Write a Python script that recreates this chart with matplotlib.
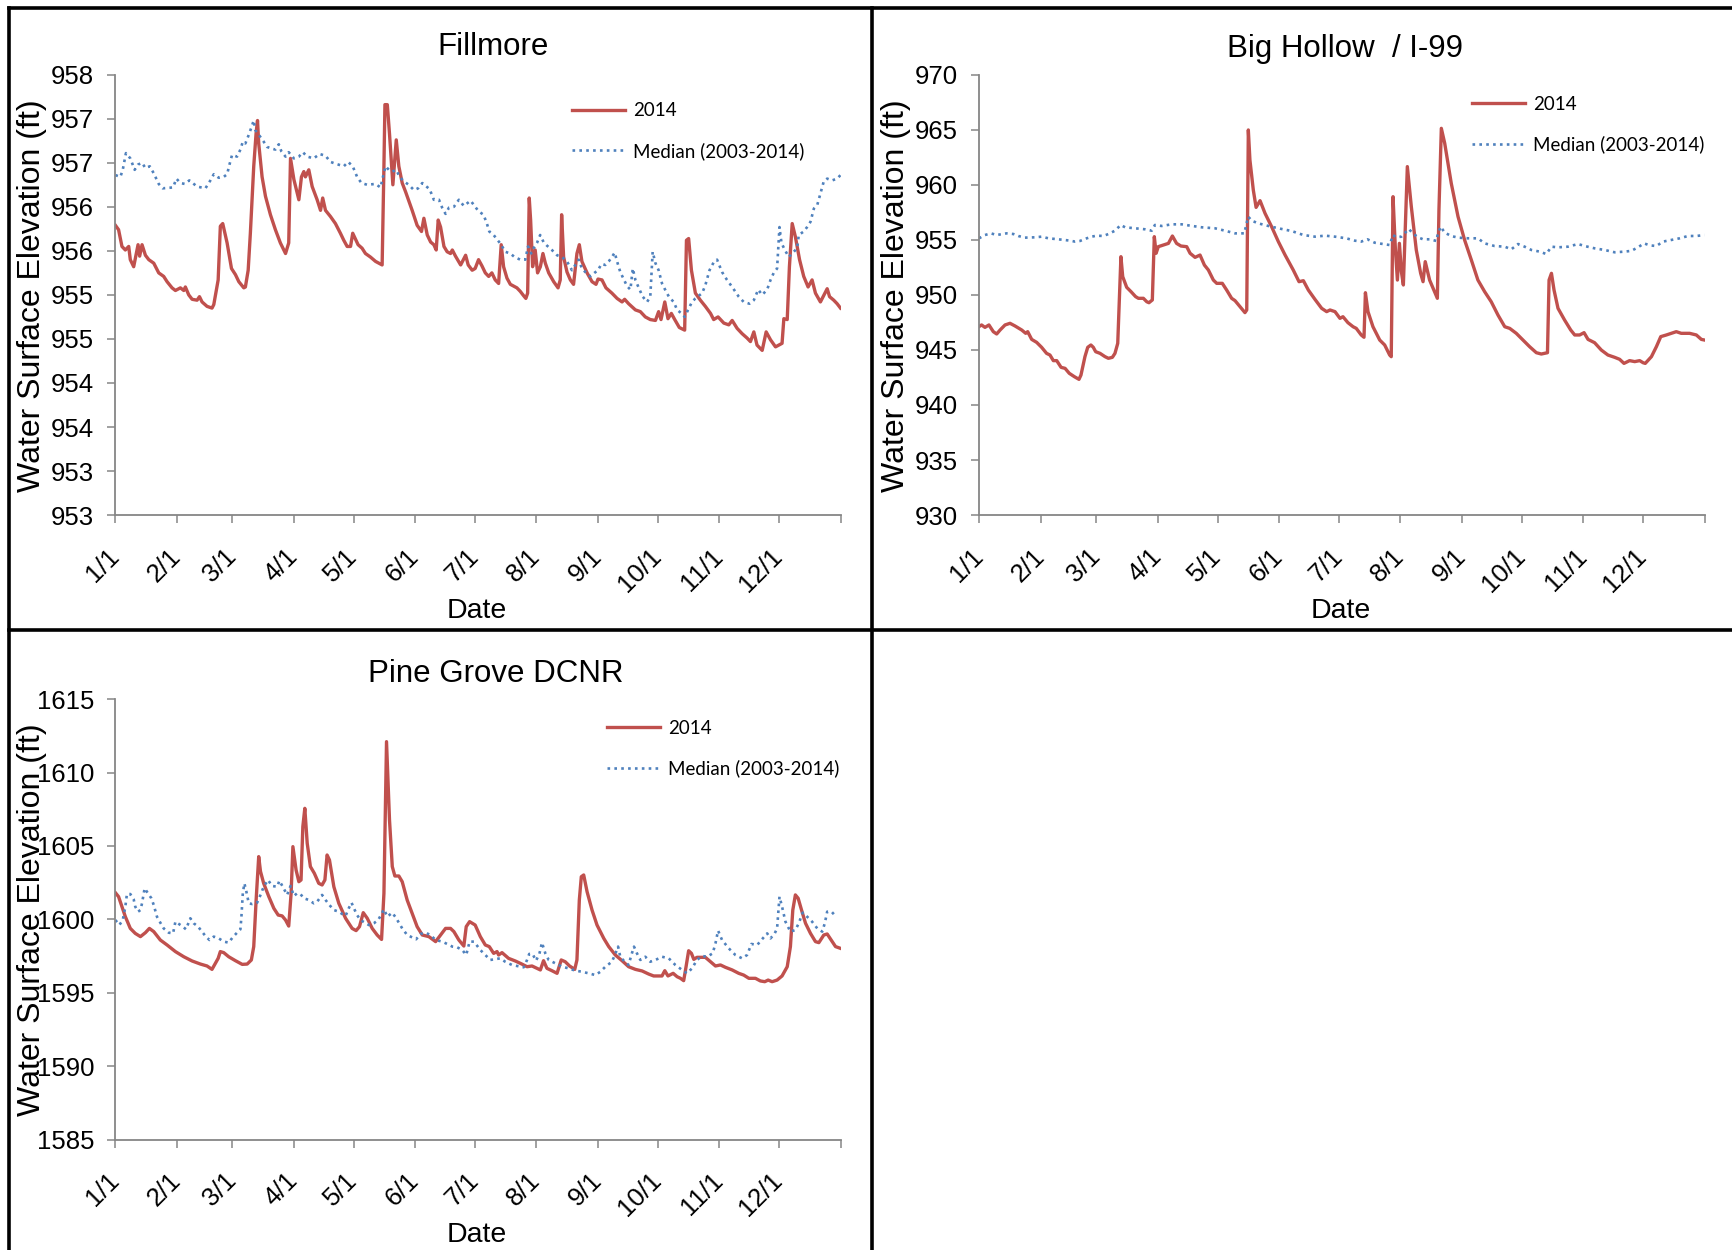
import matplotlib
matplotlib.use('Agg')
import matplotlib.pyplot as plt
from matplotlib.lines import Line2D

# ---------------- data ----------------
month_start_days = [0, 31, 59, 90, 120, 151, 181, 212, 243, 273, 304, 334, 365]
month_labels = ['1/1', '2/1', '3/1', '4/1', '5/1', '6/1', '7/1', '8/1', '9/1',
                '10/1', '11/1', '12/1', '']
legend_labels = ['2014', 'Median (2003-2014)']
titles = ['Fillmore', 'Big Hollow  / I-99', 'Pine Grove DCNR']

# Fillmore
fillmore_yticks = [953, 953.5, 954, 954.5, 955, 955.5, 956, 956.5, 957, 957.5, 958]
fillmore_yticklabels = ['953', '953', '954', '954', '955', '955', '956', '956', '957', '957', '958']
fillmore_2014_day = [0.2, 1.8, 3.5, 5.2, 6.9, 7.7, 9.4, 11.6, 12.4, 13.6, 15.3, 17.0, 19.5, 22.0, 24.5,
    26.2, 28.7, 30.4, 32.9, 34.6, 35.4, 37.1, 38.8, 41.3, 42.5, 43.8, 46.3, 48.8, 49.7, 51.9, 53.0,
    54.2, 56.4, 58.6, 60.6, 62.3, 64.8, 65.6, 67.0, 68.1, 69.8, 71.0, 71.7, 72.3, 74.0, 75.7, 78.2,
    80.7, 83.2, 85.8, 87.4, 88.3, 90.0, 92.5, 93.8, 95.0, 95.8, 97.5, 99.2, 101.7, 103.4, 104.5,
    105.9, 108.4, 110.9, 113.4, 115.1, 116.8, 118.5, 119.6, 122.3, 124.3, 126.0, 128.5, 131.1,
    132.7, 134.4, 135.3, 135.8, 137.0, 138.1, 139.8, 141.5, 142.8, 144.5, 146.2, 149.5, 152.0,
    154.2, 155.4, 157.1, 158.8, 160.4, 161.6, 162.6, 163.8, 165.5, 167.1, 168.8, 169.7, 171.3,
    173.9, 176.4, 177.7, 179.7, 181.2, 182.9, 184.6, 186.3, 188.0, 189.6, 191.3, 193.0, 194.3,
    195.5, 197.2, 198.9, 202.2, 203.9, 205.6, 206.7, 207.6, 208.4, 209.1, 210.1, 211.4, 212.6,
    214.0, 215.3, 216.5, 218.2, 220.7, 222.9, 224.0, 224.7, 225.7, 227.4, 229.1, 230.7, 232.4,
    233.6, 234.9, 237.5, 240.0, 242.0, 243.0, 245.0, 247.0, 250.0, 252.6, 255.1, 256.4, 258.4,
    261.8, 264.3, 266.8, 269.3, 271.9, 273.5, 274.7, 276.6, 278.2, 279.9, 281.6, 283.9, 286.6,
    287.5, 288.6, 290.0, 292.0, 294.5, 297.0, 299.6, 301.2, 303.4, 306.3, 308.8, 310.5, 313.0,
    315.5, 318.0, 319.7, 321.4, 323.0, 325.6, 327.6, 329.8, 332.3, 335.6, 336.5, 338.2, 339.3,
    340.7, 342.3, 344.4, 346.5, 348.7, 350.7, 352.4, 354.9, 358.3, 359.5, 361.6, 363.3, 365.0]
fillmore_2014_ft = [956.29, 956.24, 956.05, 956.01, 956.05, 955.90, 955.82, 956.07, 955.94, 956.07,
    955.95, 955.90, 955.86, 955.75, 955.71, 955.65, 955.58, 955.55, 955.58, 955.55, 955.59, 955.50,
    955.45, 955.44, 955.48, 955.42, 955.37, 955.35, 955.39, 955.67, 956.28, 956.31, 956.09, 955.80,
    955.73, 955.65, 955.58, 955.59, 955.78, 956.20, 956.96, 957.34, 957.48, 957.22, 956.84, 956.62,
    956.41, 956.24, 956.09, 955.97, 956.09, 957.05, 956.81, 956.58, 956.84, 956.90, 956.84, 956.92,
    956.73, 956.58, 956.46, 956.60, 956.46, 956.39, 956.31, 956.20, 956.12, 956.05, 956.05, 956.20,
    956.07, 956.03, 955.97, 955.93, 955.88, 955.86, 955.84, 956.96, 957.66, 957.66, 957.33, 956.75,
    957.26, 956.96, 956.77, 956.67, 956.46, 956.29, 956.22, 956.37, 956.18, 956.10, 956.07, 956.01,
    956.35, 956.27, 956.05, 955.99, 955.97, 956.01, 955.94, 955.84, 955.95, 955.84, 955.78, 955.80,
    955.90, 955.83, 955.75, 955.71, 955.75, 955.67, 955.63, 956.07, 955.82, 955.69, 955.62, 955.58,
    955.54, 955.49, 955.46, 955.52, 956.60, 956.35, 955.82, 956.01, 955.75, 955.82, 955.97, 955.86,
    955.75, 955.65, 955.58, 955.67, 956.41, 955.93, 955.76, 955.67, 955.62, 955.97, 956.07, 955.88,
    955.75, 955.65, 955.62, 955.68, 955.67, 955.58, 955.52, 955.46, 955.42, 955.45, 955.40, 955.33,
    955.31, 955.25, 955.22, 955.21, 955.31, 955.22, 955.42, 955.23, 955.29, 955.22, 955.13, 955.10,
    956.12, 956.14, 955.78, 955.52, 955.44, 955.37, 955.29, 955.22, 955.25, 955.18, 955.16, 955.21,
    955.12, 955.06, 955.01, 954.97, 955.08, 954.93, 954.87, 955.08, 954.99, 954.91, 954.95, 955.23,
    955.22, 955.82, 956.31, 956.16, 955.90, 955.71, 955.59, 955.67, 955.52, 955.42, 955.57, 955.48,
    955.44, 955.40, 955.35]
fillmore_median_day = [0.2, 2.7, 3.9, 5.5, 7.7, 9.9, 11.6, 13.6, 15.3, 17.5, 19.5, 22.0, 24.0, 29.2,
    30.9, 32.9, 35.1, 37.4, 41.3, 45.5, 48.0, 49.7, 52.2, 54.7, 56.4, 57.6, 58.9, 61.4, 63.1, 64.3,
    65.6, 67.0, 68.6, 69.8, 70.6, 72.3, 74.8, 76.5, 79.0, 80.7, 82.4, 83.7, 85.8, 87.4, 90.0, 92.5,
    94.5, 96.7, 100.0, 102.9, 105.9, 108.4, 110.9, 115.1, 117.3, 119.6, 121.8, 124.0, 126.9, 131.0,
    133.6, 134.8, 136.1, 137.8, 139.5, 141.5, 143.2, 145.3, 147.8, 150.4, 152.5, 154.6, 158.3,
    160.4, 163.0, 164.6, 166.3, 168.0, 170.5, 173.0, 175.5, 178.9, 181.2, 182.9, 185.4, 187.1,
    188.3, 190.5, 194.3, 196.3, 198.9, 201.0, 203.9, 206.4, 207.8, 209.4, 210.6, 212.3, 213.9,
    215.6, 217.3, 219.8, 222.4, 224.9, 227.4, 229.9, 231.6, 233.3, 234.9, 236.6, 239.1, 241.2,
    243.0, 244.7, 246.7, 248.4, 250.0, 251.4, 252.6, 254.2, 255.9, 257.6, 259.3, 260.5, 261.8,
    263.5, 265.5, 267.7, 269.3, 270.5, 271.9, 273.5, 275.2, 277.2, 278.9, 281.1, 282.8, 285.0,
    286.6, 288.3, 290.3, 292.0, 295.4, 297.0, 299.1, 301.2, 302.9, 305.4, 307.9, 310.5, 313.8,
    316.3, 319.2, 321.4, 323.6, 325.6, 328.1, 329.8, 331.4, 333.1, 334.3, 335.3, 337.0, 339.0,
    340.7, 343.2, 344.0, 346.5, 348.2, 349.9, 351.6, 353.3, 354.9, 356.6, 358.3, 360.8, 363.3, 365.0]
fillmore_median_ft = [956.86, 956.84, 956.92, 957.11, 957.05, 956.92, 956.98, 957.00, 956.94, 956.96,
    956.88, 956.76, 956.71, 956.72, 956.82, 956.77, 956.76, 956.80, 956.73, 956.71, 956.80, 956.87,
    956.83, 956.84, 956.87, 956.98, 957.09, 957.07, 957.15, 957.24, 957.22, 957.30, 957.40, 957.48,
    957.37, 957.32, 957.24, 957.18, 957.16, 957.15, 957.21, 957.13, 957.07, 957.12, 957.05, 957.07,
    957.12, 957.07, 957.05, 957.10, 957.08, 957.01, 956.99, 956.96, 957.01, 956.96, 956.84, 956.77,
    956.75, 956.76, 956.72, 956.84, 956.96, 956.92, 956.90, 956.92, 956.84, 956.79, 956.75, 956.69,
    956.71, 956.77, 956.70, 956.58, 956.58, 956.49, 956.42, 956.49, 956.50, 956.58, 956.51, 956.57,
    956.50, 956.45, 956.41, 956.31, 956.22, 956.18, 956.07, 955.99, 955.97, 955.93, 955.90, 955.90,
    956.05, 955.97, 956.03, 956.09, 956.18, 956.10, 956.06, 956.01, 955.95, 955.93, 955.88, 955.78,
    955.84, 955.90, 955.80, 955.76, 955.71, 955.75, 955.78, 955.85, 955.84, 955.88, 955.93, 955.98,
    955.88, 955.76, 955.68, 955.60, 955.56, 955.80, 955.67, 955.58, 955.48, 955.42, 955.48, 955.99,
    955.86, 955.78, 955.63, 955.54, 955.47, 955.42, 955.33, 955.29, 955.25, 955.33, 955.42, 955.46,
    955.52, 955.61, 955.78, 955.87, 955.90, 955.76, 955.67, 955.59, 955.48, 955.42, 955.40, 955.44,
    955.56, 955.50, 955.56, 955.67, 955.75, 955.80, 956.27, 956.09, 956.01, 955.93, 955.97, 956.03,
    956.18, 956.22, 956.27, 956.33, 956.48, 956.52, 956.65, 956.79, 956.82, 956.80, 956.82, 956.86]

# Big Hollow / I-99
bighollow_yticks = [930, 935, 940, 945, 950, 955, 960, 965, 970]
bighollow_2014_day = [0.0, 1.3, 3.0, 5.0, 7.2, 8.9, 10.6, 13.1, 15.6, 18.1, 21.5, 23.5, 24.5, 26.5,
    29.0, 31.5, 34.0, 35.7, 37.4, 39.1, 41.3, 43.3, 45.4, 48.0, 50.3, 51.3, 53.3, 54.7, 56.3, 57.5,
    58.7, 60.9, 63.4, 65.1, 67.1, 68.4, 69.8, 70.6, 71.4, 72.3, 74.3, 76.5, 78.8, 80.2, 82.7, 84.4,
    85.5, 87.2, 88.2, 89.1, 90.2, 92.7, 95.3, 97.3, 99.4, 101.6, 104.5, 106.2, 108.7, 111.2, 113.4,
    115.4, 117.9, 119.6, 122.4, 124.6, 127.1, 128.8, 131.3, 133.8, 134.7, 135.5, 136.3, 138.0,
    139.4, 141.4, 143.9, 147.2, 150.6, 154.0, 158.1, 161.0, 163.2, 165.7, 169.0, 172.4, 174.9,
    176.6, 179.1, 181.6, 183.1, 185.6, 188.2, 189.8, 192.3, 193.7, 194.4, 195.7, 198.2, 201.6,
    204.1, 206.6, 207.4, 208.3, 209.5, 210.5, 211.5, 212.5, 213.5, 215.5, 217.5, 220.0, 222.2,
    223.4, 224.5, 226.7, 229.2, 230.6, 231.4, 232.6, 234.3, 237.6, 241.0, 244.3, 247.7, 251.0,
    254.4, 257.7, 261.1, 264.5, 267.0, 270.3, 273.7, 277.0, 280.4, 282.9, 286.0, 286.8, 288.0,
    289.3, 291.3, 294.6, 297.7, 299.7, 302.2, 304.4, 306.4, 309.7, 313.1, 316.4, 319.8, 322.3,
    324.5, 327.3, 329.9, 332.4, 334.1, 335.2, 338.3, 340.8, 343.0, 345.8, 348.3, 350.8, 353.3,
    357.5, 360.9, 363.4, 365.0]
bighollow_2014_ft = [947.12, 947.27, 947.05, 947.27, 946.66, 946.45, 946.81, 947.27, 947.42, 947.18,
    946.81, 946.51, 946.66, 945.96, 945.69, 945.24, 944.69, 944.54, 944.03, 944.03, 943.42, 943.33,
    942.88, 942.57, 942.33, 942.72, 944.39, 945.24, 945.45, 945.24, 944.84, 944.69, 944.39, 944.24,
    944.33, 944.69, 945.60, 949.54, 953.47, 951.66, 950.69, 950.29, 949.84, 949.69, 949.69, 949.38,
    949.29, 949.54, 955.29, 953.78, 954.38, 954.53, 954.68, 955.35, 954.68, 954.44, 954.38, 953.78,
    953.41, 953.62, 952.71, 952.26, 951.35, 951.05, 951.05, 950.44, 949.69, 949.48, 948.93, 948.39,
    948.63, 964.98, 962.25, 959.53, 957.95, 958.56, 957.41, 956.20, 954.84, 953.62, 952.26, 951.20,
    951.29, 950.44, 949.60, 948.78, 948.48, 948.63, 948.48, 947.87, 948.02, 947.48, 947.11, 946.96,
    946.36, 946.15, 950.20, 948.48, 947.11, 945.90, 945.45, 944.54, 944.39, 958.92, 954.08, 951.35,
    954.68, 952.11, 950.90, 961.65, 958.01, 954.08, 951.96, 951.20, 953.02, 951.35, 950.29, 949.69,
    957.71, 965.13, 963.77, 960.13, 957.11, 954.99, 953.17, 951.35, 950.29, 949.38, 948.17, 947.11,
    946.96, 946.51, 945.90, 945.30, 944.75, 944.63, 944.75, 951.35, 951.96, 950.44, 948.78, 947.72,
    946.81, 946.36, 946.36, 946.57, 945.96, 945.66, 944.99, 944.54, 944.33, 944.15, 943.78, 944.03,
    943.94, 944.03, 943.84, 943.78, 944.39, 945.30, 946.21, 946.36, 946.51, 946.66, 946.51, 946.51,
    946.36, 945.96, 945.90]
bighollow_median_day = [0.0, 3.0, 6.0, 8.9, 13.9, 17.3, 19.8, 23.1, 28.2, 31.5, 34.9, 39.9, 45.8,
    48.3, 50.8, 54.2, 56.7, 59.2, 62.6, 65.1, 68.4, 71.3, 73.5, 78.5, 83.5, 86.9, 88.5, 91.9, 96.9,
    102.0, 106.2, 112.0, 118.7, 123.8, 128.8, 133.5, 134.7, 135.5, 137.2, 140.5, 145.6, 150.6,
    157.3, 163.2, 169.0, 174.1, 179.1, 184.8, 189.0, 192.3, 195.4, 199.1, 203.3, 206.6, 208.3,
    210.0, 212.5, 214.1, 216.2, 218.3, 220.9, 223.4, 226.7, 230.1, 230.9, 232.3, 234.3, 237.6,
    241.0, 246.0, 251.0, 254.4, 259.4, 264.5, 267.8, 271.2, 274.5, 277.9, 282.1, 285.4, 288.0,
    291.3, 296.3, 301.4, 304.7, 309.7, 314.8, 319.8, 324.8, 328.2, 331.5, 334.6, 337.4, 340.8,
    344.1, 348.3, 352.5, 356.7, 360.9, 365.0]
bighollow_median_ft = [955.14, 955.44, 955.59, 955.44, 955.59, 955.53, 955.35, 955.20, 955.23,
    955.29, 955.14, 955.05, 954.93, 954.84, 954.90, 955.14, 955.29, 955.38, 955.35, 955.53, 955.83,
    956.35, 956.14, 956.05, 955.96, 955.83, 956.35, 956.26, 956.41, 956.41, 956.29, 956.14, 956.05,
    955.83, 955.59, 955.59, 956.56, 957.10, 956.74, 956.50, 956.26, 956.05, 955.80, 955.44, 955.29,
    955.38, 955.29, 955.14, 954.93, 954.84, 955.05, 954.74, 954.62, 954.53, 955.44, 955.23, 955.29,
    955.59, 955.99, 955.59, 955.23, 955.05, 955.05, 954.90, 955.59, 956.20, 955.65, 955.35, 955.20,
    955.14, 955.14, 954.68, 954.44, 954.38, 954.14, 954.62, 954.38, 954.08, 953.93, 953.71, 954.38,
    954.32, 954.38, 954.62, 954.44, 954.23, 954.08, 953.87, 953.93, 954.00, 954.32, 954.68, 954.50,
    954.44, 954.84, 954.99, 955.14, 955.35, 955.35, 955.44]

# Pine Grove DCNR
pinegrove_yticks = [1585, 1590, 1595, 1600, 1605, 1610, 1615]
pinegrove_2014_day = [0.2, 1.8, 3.5, 5.2, 7.7, 10.2, 12.8, 15.3, 17.3, 19.5, 22.8, 26.2, 30.4, 34.6,
    38.8, 43.0, 46.3, 48.8, 50.5, 51.9, 53.0, 54.7, 57.2, 60.6, 64.0, 66.5, 68.6, 69.8, 71.0, 72.3,
    73.2, 74.8, 77.4, 79.9, 82.1, 84.1, 85.8, 87.4, 88.6, 89.5, 91.1, 92.5, 93.6, 94.5, 95.5, 96.7,
    98.3, 100.3, 102.5, 104.2, 105.6, 106.7, 107.9, 110.1, 112.6, 116.0, 119.3, 121.3, 123.0, 124.9,
    126.9, 129.4, 131.9, 134.1, 135.3, 136.1, 136.6, 138.1, 139.5, 140.8, 142.8, 144.5, 147.0,
    149.5, 152.0, 154.6, 157.9, 161.3, 163.8, 166.3, 168.8, 170.5, 173.0, 175.5, 176.7, 178.4,
    181.2, 183.8, 186.3, 188.3, 190.5, 192.2, 193.0, 194.7, 198.0, 201.4, 204.7, 207.3, 209.8,
    212.3, 214.0, 215.6, 217.3, 219.8, 222.4, 224.5, 226.5, 228.7, 231.3, 232.4, 233.6, 234.6,
    235.8, 237.5, 240.0, 242.5, 245.9, 248.4, 251.7, 255.1, 258.4, 261.8, 265.2, 268.5, 271.0,
    275.2, 276.6, 278.2, 280.8, 282.8, 284.5, 286.1, 287.3, 288.6, 290.0, 291.2, 292.8, 297.0,
    299.6, 302.1, 304.6, 307.1, 310.5, 313.8, 316.3, 318.9, 322.2, 324.7, 326.9, 328.6, 330.6,
    333.1, 335.6, 338.2, 339.8, 341.0, 342.3, 343.7, 345.4, 347.4, 349.9, 352.4, 354.1, 356.6,
    358.3, 360.8, 362.5, 365.0]
pinegrove_2014_ft = [1601.81, 1601.54, 1600.86, 1600.18, 1599.38, 1599.04, 1598.82, 1599.09, 1599.38,
    1599.16, 1598.59, 1598.25, 1597.80, 1597.45, 1597.16, 1596.95, 1596.82, 1596.59, 1597.00,
    1597.34, 1597.80, 1597.73, 1597.45, 1597.18, 1596.93, 1596.95, 1597.23, 1598.14, 1601.31,
    1604.27, 1603.26, 1602.45, 1601.54, 1600.75, 1600.29, 1600.23, 1599.95, 1599.54, 1601.77,
    1604.95, 1603.36, 1602.56, 1602.68, 1606.31, 1607.56, 1605.18, 1603.59, 1603.13, 1602.45,
    1602.34, 1602.68, 1604.38, 1604.04, 1602.22, 1601.09, 1600.07, 1599.38, 1599.23, 1599.50,
    1600.45, 1600.07, 1599.38, 1598.93, 1598.63, 1601.77, 1608.13, 1612.10, 1606.77, 1603.59,
    1602.95, 1602.95, 1602.56, 1601.31, 1600.41, 1599.50, 1598.93, 1598.82, 1598.48, 1598.93,
    1599.38, 1599.38, 1599.16, 1598.59, 1598.18, 1599.50, 1599.84, 1599.61, 1598.82, 1598.25,
    1598.14, 1597.68, 1597.80, 1597.57, 1597.73, 1597.34, 1597.16, 1596.95, 1596.77, 1596.82,
    1596.66, 1596.55, 1597.18, 1596.66, 1596.50, 1596.32, 1597.23, 1597.11, 1596.82, 1596.59,
    1597.23, 1601.31, 1602.90, 1603.02, 1601.88, 1600.63, 1599.61, 1598.70, 1598.14, 1597.57,
    1597.18, 1596.77, 1596.59, 1596.48, 1596.27, 1596.14, 1596.14, 1596.50, 1596.14, 1596.32,
    1596.09, 1595.98, 1595.82, 1596.77, 1597.86, 1597.68, 1597.27, 1597.41, 1597.41, 1597.11,
    1596.82, 1596.89, 1596.73, 1596.55, 1596.32, 1596.20, 1595.98, 1595.98, 1595.80, 1595.75,
    1595.86, 1595.75, 1595.86, 1596.14, 1596.77, 1598.14, 1600.63, 1601.66, 1601.43, 1600.63,
    1599.73, 1599.04, 1598.48, 1598.41, 1598.93, 1599.00, 1598.48, 1598.14, 1598.02]
pinegrove_median_day = [0.2, 2.2, 3.9, 5.2, 6.0, 7.7, 9.4, 10.2, 11.6, 12.8, 13.6, 14.9, 16.6, 18.3,
    19.5, 21.1, 22.8, 24.5, 27.0, 29.2, 30.4, 33.7, 35.7, 37.9, 39.6, 41.8, 43.8, 45.5, 47.5, 49.7,
    52.2, 54.7, 57.2, 59.2, 61.4, 63.1, 63.6, 64.3, 65.1, 66.1, 67.3, 69.0, 71.5, 73.2, 74.8, 77.0,
    79.0, 81.6, 82.7, 84.4, 86.6, 88.3, 90.0, 91.6, 93.3, 95.0, 97.5, 100.0, 101.7, 104.2, 105.9,
    107.9, 110.1, 112.6, 114.3, 116.0, 117.6, 119.0, 120.2, 121.8, 123.5, 125.7, 127.7, 130.2,
    132.4, 134.1, 135.3, 137.0, 139.5, 141.5, 144.5, 147.0, 149.5, 151.5, 153.7, 156.2, 158.7,
    161.3, 164.6, 167.1, 169.7, 172.2, 174.7, 176.7, 178.4, 180.6, 183.8, 186.3, 188.8, 193.8,
    196.3, 199.7, 205.6, 207.3, 208.4, 210.1, 211.8, 213.5, 214.8, 216.5, 218.2, 221.5, 224.9,
    228.2, 231.6, 234.9, 238.3, 241.7, 244.2, 246.7, 250.0, 251.7, 253.1, 254.2, 256.4, 258.4,
    259.8, 261.1, 262.6, 264.3, 266.8, 269.3, 271.9, 275.2, 278.6, 281.9, 285.3, 287.8, 290.3,
    292.8, 295.4, 297.9, 300.7, 302.1, 303.4, 305.4, 308.8, 312.1, 315.5, 318.0, 320.2, 323.1,
    325.2, 328.1, 329.8, 331.9, 333.1, 334.3, 335.6, 337.3, 339.8, 342.3, 344.0, 346.0, 348.2,
    350.7, 353.3, 355.8, 357.1, 358.3, 360.5, 362.5]
pinegrove_median_ft = [1599.95, 1599.61, 1599.95, 1600.86, 1601.72, 1601.72, 1601.36, 1600.86,
    1600.52, 1600.63, 1601.09, 1602.11, 1601.77, 1601.43, 1600.97, 1600.18, 1599.77, 1599.38,
    1599.09, 1599.04, 1599.84, 1599.54, 1599.32, 1600.07, 1599.73, 1599.50, 1599.16, 1598.86,
    1598.59, 1598.82, 1598.70, 1598.48, 1598.41, 1598.77, 1599.09, 1599.32, 1600.18, 1601.77,
    1602.45, 1601.88, 1601.09, 1601.04, 1601.13, 1601.66, 1602.22, 1602.68, 1602.27, 1602.22,
    1602.63, 1602.22, 1601.66, 1602.27, 1601.59, 1601.77, 1601.72, 1601.43, 1601.32, 1601.09,
    1601.20, 1601.66, 1601.32, 1600.97, 1600.63, 1600.52, 1600.36, 1600.23, 1600.75, 1601.13,
    1600.75, 1600.29, 1599.95, 1599.77, 1599.61, 1599.73, 1599.95, 1600.36, 1600.68, 1600.18,
    1600.45, 1600.07, 1599.38, 1598.93, 1598.77, 1598.64, 1599.00, 1599.09, 1598.93, 1598.59,
    1598.48, 1598.32, 1598.14, 1598.09, 1597.91, 1597.57, 1598.48, 1598.48, 1597.91, 1597.57,
    1597.23, 1597.34, 1597.11, 1596.89, 1596.73, 1597.23, 1597.64, 1597.64, 1597.18, 1597.64,
    1598.41, 1597.68, 1597.23, 1597.00, 1596.77, 1596.66, 1596.50, 1596.43, 1596.32, 1596.20,
    1596.43, 1596.77, 1597.11, 1597.64, 1598.14, 1597.45, 1597.11, 1596.89, 1597.57, 1598.14,
    1597.68, 1597.23, 1597.45, 1597.11, 1597.23, 1597.45, 1597.34, 1596.89, 1596.55, 1596.32,
    1596.66, 1597.23, 1597.50, 1597.45, 1597.68, 1598.36, 1599.23, 1598.59, 1598.02, 1597.57,
    1597.34, 1597.57, 1598.32, 1598.25, 1598.59, 1599.04, 1598.70, 1599.04, 1599.38, 1601.54,
    1600.86, 1599.84, 1599.16, 1599.27, 1599.73, 1600.45, 1600.18, 1599.84, 1599.38, 1599.16,
    1599.73, 1600.52, 1600.52, 1600.22]

# ---------------- style ----------------
plt.rcParams['font.family'] = ['Liberation Sans', 'DejaVu Sans']
RED = '#C0504D'
BLUE = '#4F81BD'
GRAY = '#868686'
W, H = 1732, 1250

fig = plt.figure(figsize=(W / 100, H / 100), dpi=100)
fig.patch.set_facecolor('white')


def fx(x):
    return x / W


def fy(y):
    return 1 - y / H


def panel(left, top, d14, v14, dmed, vmed, yticks, yticklabels, title, title_pos,
          ylabel_pos, xlabel_pos, legend_pos):
    width, height = 725.5, 440.4
    ax = fig.add_axes([fx(left), fy(top + height), width / W, height / H])
    ax.plot(d14, v14, color=RED, lw=2.4, solid_joinstyle='round', label=legend_labels[0])
    ax.plot(dmed, vmed, color=BLUE, lw=1.9, linestyle=(0, (1, 1.6)), label=legend_labels[1])
    ax.set_xlim(month_start_days[0], month_start_days[-1])
    ax.set_ylim(yticks[0], yticks[-1])
    ax.set_yticks(yticks)
    ax.set_yticklabels(yticklabels)
    ax.set_xticks(month_start_days)
    ax.set_xticklabels(month_labels, rotation=45, ha='right', va='center',
                       rotation_mode='anchor')
    for s in ['top', 'right']:
        ax.spines[s].set_visible(False)
    for s in ['left', 'bottom']:
        ax.spines[s].set_color(GRAY)
        ax.spines[s].set_linewidth(1.3)
    ax.tick_params(axis='both', colors=GRAY, length=6, width=1.1, labelcolor='black',
                   labelsize=18.5)
    ax.tick_params(axis='y', pad=9)
    ax.tick_params(axis='x', pad=21)
    fig.text(fx(title_pos[0]), fy(title_pos[1]), title, fontsize=22.5, ha='center',
             va='baseline')
    fig.text(fx(ylabel_pos[0]), fy(ylabel_pos[1]), 'Water Surface Elevation (ft)',
             fontsize=23, rotation=90, ha='center', va='center')
    fig.text(fx(xlabel_pos[0]), fy(xlabel_pos[1]), 'Date', fontsize=20.5, ha='center',
             va='baseline')
    ax.legend(loc='center left', bbox_to_anchor=(fx(legend_pos[0]), fy(legend_pos[1])),
              bbox_transform=fig.transFigure, frameon=False, borderpad=0,
              borderaxespad=0, handlelength=2.85, handletextpad=0.4,
              labelspacing=1.2, prop={'family': ['Lato', 'DejaVu Sans'], 'size': 13.5})
    return ax


panel(115, 74.7, fillmore_2014_day, fillmore_2014_ft, fillmore_median_day, fillmore_median_ft,
      fillmore_yticks, fillmore_yticklabels, titles[0], (493, 55), (32, 296), (477, 618),
      (572, 131))
panel(979, 74.7, bighollow_2014_day, bighollow_2014_ft, bighollow_median_day, bighollow_median_ft,
      bighollow_yticks, [str(t) for t in bighollow_yticks], titles[1], (1345, 57), (896, 296),
      (1341, 618), (1472, 124.5))
panel(115, 699.1, pinegrove_2014_day, pinegrove_2014_ft, pinegrove_median_day, pinegrove_median_ft,
      pinegrove_yticks, [str(t) for t in pinegrove_yticks], titles[2], (496, 682), (32, 920),
      (477, 1242), (607, 748.5))

# panel borders
border_kw = dict(color='black', lw=2.6, transform=fig.transFigure, solid_capstyle='projecting')
fig.add_artist(Line2D([fx(9), fx(W)], [fy(7.5), fy(7.5)], **border_kw))
fig.add_artist(Line2D([fx(9), fx(9)], [fy(7.5), fy(H)], **border_kw))
fig.add_artist(Line2D([fx(871.5), fx(871.5)], [fy(7.5), fy(H)], **border_kw))
fig.add_artist(Line2D([fx(9), fx(W)], [fy(630), fy(630)], **border_kw))

fig.savefig('out.png', dpi=100, facecolor='white')
